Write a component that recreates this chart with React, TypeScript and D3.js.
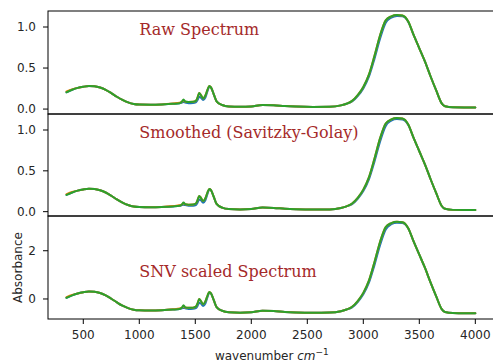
import React from 'react';
import * as d3 from 'd3';

const wavenumbers = [350,400,450,500,550,600,650,700,750,800,850,900,950,1000,1100,1200,1300,1360,1382,1395,1410,1440,1480,1505,1520,1535,1550,1570,1590,1610,1625,1640,1665,1690,1740,1800,1900,2000,2100,2200,2300,2400,2550,2700,2800,2850,2900,2950,3000,3050,3100,3150,3200,3250,3300,3350,3400,3450,3500,3550,3600,3650,3700,3730,3800,3900,4000];

const rawBlue = [0.205,0.235,0.258,0.272,0.280,0.277,0.262,0.235,0.195,0.150,0.112,0.082,0.063,0.056,0.054,0.057,0.064,0.072,0.080,0.085,0.080,0.072,0.074,0.082,0.110,0.150,0.140,0.110,0.140,0.222,0.272,0.262,0.180,0.095,0.050,0.032,0.027,0.032,0.050,0.046,0.036,0.030,0.026,0.028,0.045,0.065,0.092,0.158,0.252,0.395,0.615,0.860,1.050,1.115,1.135,1.130,1.065,0.900,0.740,0.580,0.400,0.230,0.070,0.035,0.022,0.020,0.020];
const rawOrange = [0.215,0.240,0.258,0.272,0.280,0.277,0.262,0.235,0.195,0.150,0.112,0.082,0.063,0.056,0.054,0.057,0.068,0.078,0.090,0.105,0.090,0.086,0.088,0.100,0.140,0.195,0.170,0.130,0.165,0.240,0.280,0.265,0.180,0.095,0.050,0.032,0.027,0.032,0.050,0.046,0.036,0.030,0.026,0.028,0.045,0.065,0.100,0.170,0.270,0.420,0.650,0.900,1.080,1.130,1.147,1.140,1.070,0.900,0.740,0.580,0.400,0.230,0.070,0.035,0.022,0.020,0.020];
const rawGreen = [0.205,0.235,0.258,0.272,0.280,0.277,0.262,0.235,0.195,0.150,0.112,0.082,0.063,0.056,0.054,0.057,0.064,0.072,0.092,0.118,0.092,0.086,0.088,0.100,0.140,0.195,0.170,0.130,0.165,0.240,0.280,0.265,0.180,0.095,0.050,0.032,0.027,0.032,0.050,0.046,0.036,0.030,0.026,0.028,0.045,0.065,0.100,0.170,0.270,0.420,0.650,0.900,1.080,1.130,1.147,1.140,1.070,0.900,0.740,0.580,0.400,0.230,0.070,0.035,0.022,0.020,0.020];

const smoothBlue = [0.205,0.235,0.258,0.272,0.280,0.277,0.262,0.235,0.195,0.150,0.112,0.082,0.063,0.056,0.054,0.057,0.064,0.072,0.080,0.084,0.080,0.072,0.074,0.082,0.110,0.150,0.140,0.110,0.140,0.222,0.272,0.262,0.180,0.095,0.050,0.032,0.027,0.032,0.050,0.046,0.036,0.030,0.026,0.028,0.045,0.065,0.092,0.158,0.252,0.395,0.615,0.860,1.050,1.115,1.135,1.130,1.065,0.900,0.740,0.580,0.400,0.230,0.070,0.035,0.022,0.020,0.020];
const smoothOrange = [0.215,0.240,0.258,0.272,0.280,0.277,0.262,0.235,0.195,0.150,0.112,0.082,0.063,0.056,0.054,0.057,0.068,0.078,0.090,0.102,0.090,0.086,0.088,0.100,0.140,0.192,0.170,0.130,0.165,0.240,0.278,0.265,0.180,0.095,0.050,0.032,0.027,0.032,0.050,0.046,0.036,0.030,0.026,0.028,0.045,0.065,0.100,0.170,0.270,0.420,0.650,0.900,1.080,1.130,1.147,1.140,1.070,0.900,0.740,0.580,0.400,0.230,0.070,0.035,0.022,0.020,0.020];
const smoothGreen = [0.205,0.235,0.258,0.272,0.280,0.277,0.262,0.235,0.195,0.150,0.112,0.082,0.063,0.056,0.054,0.057,0.064,0.072,0.092,0.112,0.092,0.086,0.088,0.100,0.140,0.192,0.170,0.130,0.165,0.240,0.278,0.265,0.180,0.095,0.050,0.032,0.027,0.032,0.050,0.046,0.036,0.030,0.026,0.028,0.045,0.065,0.100,0.170,0.270,0.420,0.650,0.900,1.080,1.130,1.147,1.140,1.070,0.900,0.740,0.580,0.400,0.230,0.070,0.035,0.022,0.020,0.020];

const snvBlue = [0.05,0.15,0.23,0.28,0.31,0.30,0.25,0.15,0.01,-0.14,-0.279,-0.380,-0.444,-0.468,-0.475,-0.465,-0.441,-0.414,-0.387,-0.370,-0.387,-0.414,-0.407,-0.380,-0.286,-0.152,-0.185,-0.286,-0.185,0.091,0.259,0.226,-0.051,-0.337,-0.488,-0.549,-0.566,-0.549,-0.488,-0.502,-0.535,-0.556,-0.569,-0.562,-0.505,-0.438,-0.347,-0.125,0.192,0.673,1.414,2.239,2.879,3.098,3.165,3.148,2.929,2.374,1.835,1.296,0.690,0.118,-0.421,-0.539,-0.582,-0.589,-0.589];
const snvOrange = [0.08,0.17,0.23,0.28,0.31,0.30,0.25,0.15,0.01,-0.14,-0.279,-0.380,-0.444,-0.468,-0.475,-0.465,-0.428,-0.394,-0.354,-0.303,-0.354,-0.367,-0.360,-0.320,-0.185,0.0,-0.084,-0.219,-0.101,0.152,0.286,0.236,-0.051,-0.337,-0.488,-0.549,-0.566,-0.549,-0.488,-0.502,-0.535,-0.556,-0.569,-0.562,-0.505,-0.438,-0.320,-0.084,0.253,0.758,1.532,2.374,2.980,3.148,3.205,3.182,2.946,2.374,1.835,1.296,0.690,0.118,-0.421,-0.539,-0.582,-0.589,-0.589];
const snvGreen = [0.05,0.15,0.23,0.28,0.31,0.30,0.25,0.15,0.01,-0.14,-0.279,-0.380,-0.444,-0.468,-0.475,-0.465,-0.441,-0.414,-0.347,-0.259,-0.347,-0.367,-0.360,-0.320,-0.185,0.0,-0.084,-0.219,-0.101,0.152,0.286,0.236,-0.051,-0.337,-0.488,-0.549,-0.566,-0.549,-0.488,-0.502,-0.535,-0.556,-0.569,-0.562,-0.505,-0.438,-0.320,-0.084,0.253,0.758,1.532,2.374,2.980,3.148,3.205,3.182,2.946,2.374,1.835,1.296,0.690,0.118,-0.421,-0.539,-0.582,-0.589,-0.589];

const panelTitles = ['Raw Spectrum', 'Smoothed (Savitzky-Golay)', 'SNV scaled Spectrum'];
const panelYTicks = [[0, 0.5, 1.0], [0, 0.5, 1.0], [0, 2]];
const xTicks = [500, 1000, 1500, 2000, 2500, 3000, 3500, 4000];
const seriesColors = ['#1f77b4', '#ff7f0e', '#2ca02c'];

const W = 493;
const H = 362;
const x = d3.scaleLinear().domain([185, 4182]).range([48, 495.7]);

const panels = [
  { title: panelTitles[0], series: [rawBlue, rawOrange, rawGreen], domain: [-0.06, 1.195], top: 11, bottom: 114, ticks: panelYTicks[0], fmt: d3.format('.1f') },
  { title: panelTitles[1], series: [smoothBlue, smoothOrange, smoothGreen], domain: [-0.053, 1.196], top: 114, bottom: 216, ticks: panelYTicks[1], fmt: d3.format('.1f') },
  { title: panelTitles[2], series: [snvBlue, snvOrange, snvGreen], domain: [-0.83, 3.44], top: 216, bottom: 319, ticks: panelYTicks[2], fmt: d3.format('d') },
];

const sans = 'DejaVu Sans';

export default function App() {
  const [x0, x1] = x.range();
  return (
    <svg width={W} height={H} style={{ position: 'absolute', left: 0, top: 0, background: '#fff' }} xmlns="http://www.w3.org/2000/svg">
      <rect x={0} y={0} width={W} height={H} fill="#fff" />
      <defs>
        {panels.map((p, i) => (
          <clipPath id={`clip${i}`} key={i}>
            <rect x={x0} y={p.top} width={x1 - x0} height={p.bottom - p.top} />
          </clipPath>
        ))}
      </defs>
      {panels.map((p, i) => {
        const y = d3.scaleLinear().domain(p.domain).range([p.bottom, p.top]);
        const line = d3
          .line<number>()
          .x((_, j) => x(wavenumbers[j]))
          .y((d) => y(d))
          .curve(d3.curveMonotoneX);
        return (
          <g key={i}>
            <g clipPath={`url(#clip${i})`}>
              {p.series.map((s, k) => (
                <path key={k} d={line(s) || ''} fill="none" stroke={seriesColors[k]} strokeWidth={2} strokeLinejoin="round" strokeLinecap="round" />
              ))}
            </g>
            <text x={x(1000)} y={y(0.9)} fontFamily="DejaVu Serif" fontSize={16} fill="#a52a2a">
              {p.title}
            </text>
            {p.ticks.map((t) => (
              <g key={t}>
                <line x1={x0 - 5} x2={x0} y1={y(t)} y2={y(t)} stroke="#000" strokeWidth={1} />
                <text x={x0 - 12} y={y(t)} dy="0.36em" textAnchor="end" fontFamily={sans} fontSize={12} fill="#262626">
                  {p.fmt(t)}
                </text>
              </g>
            ))}
            <rect x={x0} y={p.top} width={x1 - x0} height={p.bottom - p.top} fill="none" stroke="#000" strokeWidth={1} />
          </g>
        );
      })}
      {xTicks.map((t) => (
        <g key={t}>
          <line x1={x(t)} x2={x(t)} y1={319} y2={324} stroke="#000" strokeWidth={1} />
          <text x={x(t)} y={338.5} textAnchor="middle" fontFamily={sans} fontSize={12} fill="#262626">
            {t}
          </text>
        </g>
      ))}
      <text x={(x0 + x1) / 2} y={360} textAnchor="middle" fontFamily={sans} fontSize={12} fill="#262626">
        <tspan>wavenumber </tspan>
        <tspan fontStyle="italic">cm</tspan>
        <tspan dy={-5} fontSize={9}>−1</tspan>
      </text>
      <text transform={`translate(21.5, 267.5) rotate(-90)`} textAnchor="middle" fontFamily={sans} fontSize={12} fill="#262626">
        Absorbance
      </text>
    </svg>
  );
}
